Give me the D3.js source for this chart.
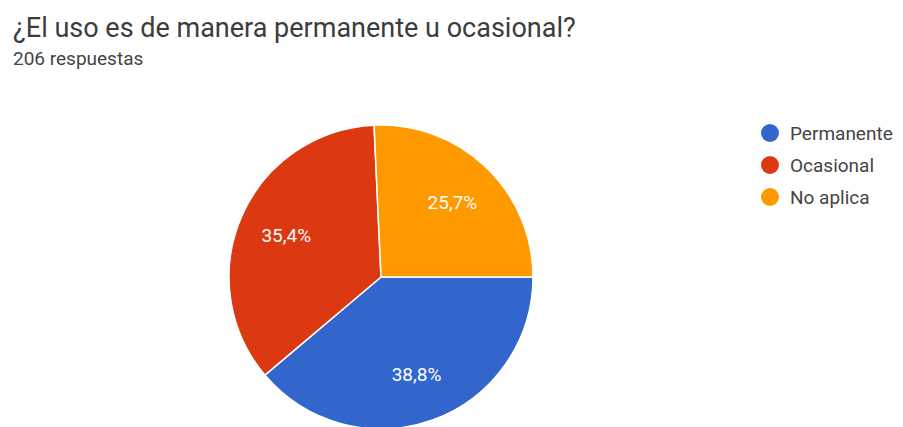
<!DOCTYPE html>
<html><head><meta charset="utf-8">
<script src="https://cdn.jsdelivr.net/npm/d3@7"></script>
<style>body{margin:0;background:#fff;}svg{display:block;}</style>
</head><body>
<svg id="c" width="903" height="427"></svg>
<script>
const categories = ["Permanente", "Ocasional", "No aplica"];
const values = [38.8, 35.4, 25.7];
const labels = ["38,8%", "35,4%", "25,7%"];
const colors = ["#3366cc", "#dc3912", "#ff9900"];
const title = "¿El uso es de manera permanente u ocasional?";
const subtitle = "206 respuestas";

const svg = d3.select("#c");
svg.append("text").attr("x", 13).attr("y", 37)
  .attr("font-family", "Roboto").attr("font-size", 27).attr("fill", "#3c3c3c")
  .text(title);
svg.append("text").attr("x", 13).attr("y", 65)
  .attr("font-family", "Roboto").attr("font-size", 19).attr("fill", "#444")
  .text(subtitle);

const cx = 381, cy = 277, r = 152;
const pie = d3.pie().sort(null).startAngle(Math.PI/2).endAngle(Math.PI/2 + 2*Math.PI);
const arcs = pie(values);
const arc = d3.arc().innerRadius(0).outerRadius(r);
const labelArc = d3.arc().innerRadius(r*0.68).outerRadius(r*0.68);
const g = svg.append("g").attr("transform", `translate(${cx},${cy})`);
g.selectAll("path").data(arcs).join("path")
  .attr("d", arc).attr("fill", (d,i)=>colors[i])
  .attr("stroke", "#fff").attr("stroke-width", 1.5);
g.selectAll("text").data(arcs).join("text")
  .attr("transform", d=>`translate(${labelArc.centroid(d)})`)
  .attr("text-anchor", "middle").attr("dy", "0.35em")
  .attr("font-family", "Roboto").attr("font-size", 19).attr("fill", "#fff")
  .text((d,i)=>labels[i]);

const leg = svg.append("g").attr("transform", "translate(770,133)");
const items = leg.selectAll("g").data(categories).join("g")
  .attr("transform", (d,i)=>`translate(0,${i*32})`);
items.append("circle").attr("r", 9).attr("fill", (d,i)=>colors[i]);
items.append("text").attr("x", 20).attr("dy", "0.35em")
  .attr("font-family", "Roboto").attr("font-size", 19).attr("fill", "#444")
  .text(d=>d);
</script>
</body></html>
